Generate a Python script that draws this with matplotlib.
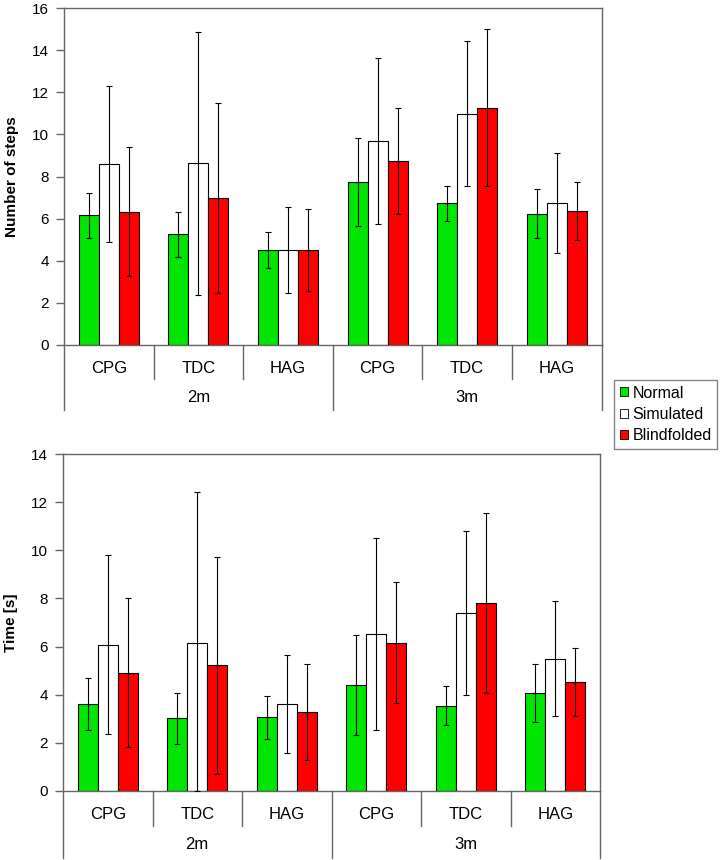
import numpy as np
import matplotlib
matplotlib.use('Agg')
import matplotlib.pyplot as plt
import matplotlib.transforms as mtransforms
from matplotlib.patches import Patch

plt.rcParams['font.family'] = ['Liberation Sans', 'DejaVu Sans']

# categories: 2m (CPG, TDC, HAG), then 3m (CPG, TDC, HAG)
categories = ['CPG', 'TDC', 'HAG', 'CPG', 'TDC', 'HAG']
groups = ['2m', '3m']
conditions = ['Normal', 'Simulated', 'Blindfolded']
colors = ['#00e600', '#ffffff', '#ff0000']

# number of steps: means and SD
steps_normal = [6.16, 5.25, 4.51, 7.74, 6.73, 6.24]
steps_sim = [8.59, 8.62, 4.51, 9.69, 10.98, 6.74]
steps_blind = [6.33, 6.98, 4.51, 8.75, 11.27, 6.36]
steps_normal_sd = [1.07, 1.08, 0.87, 2.07, 0.83, 1.18]
steps_sim_sd = [3.69, 6.25, 2.04, 3.95, 3.43, 2.39]
steps_blind_sd = [3.07, 4.51, 1.96, 2.52, 3.71, 1.38]

# time [s]: means and SD
time_normal = [3.61, 3.02, 3.07, 4.39, 3.55, 4.07]
time_sim = [6.08, 6.16, 3.61, 6.52, 7.38, 5.50]
time_blind = [4.92, 5.23, 3.28, 6.16, 7.80, 4.53]
time_normal_sd = [1.07, 1.07, 0.89, 2.07, 0.81, 1.20]
time_sim_sd = [3.73, 6.28, 2.04, 4.00, 3.41, 2.40]
time_blind_sd = [3.08, 4.51, 1.99, 2.52, 3.73, 1.42]

W, H = 726, 860
fig = plt.figure(figsize=(W / 100, H / 100), dpi=100)

def px_axes(left, top, right, bottom):
    return fig.add_axes([left / W, 1 - bottom / H, (right - left) / W, (bottom - top) / H])

ax1 = px_axes(64, 8, 601.5, 345)
ax2 = px_axes(63, 454, 600, 791)

spine_col = '#666666'
bw = 0.223

def draw(ax, means, sds, ymax, ylabel, sep_depth, outer_depth):
    x = np.arange(len(categories))
    for i, (m, s) in enumerate(zip(means, sds)):
        m = np.array(m)
        s = np.array(s)
        lower = np.minimum(s, m)  # bars cannot go below zero
        ax.bar(x + (i - 1) * bw, m, width=bw, color=colors[i], edgecolor='black',
               linewidth=0.8, zorder=2)
        ax.errorbar(x + (i - 1) * bw, m, yerr=[lower, s], fmt='none', ecolor='black',
                    elinewidth=0.8, capsize=2.5, capthick=0.8, zorder=3)
    ax.set_xlim(-0.5, len(categories) - 0.5)
    ax.set_ylim(0, ymax)
    ax.set_yticks(np.arange(0, ymax + 1, 2))
    ax.set_xticks([])
    ax.tick_params(axis='y', direction='out', length=6, width=1, color=spine_col,
                   labelsize=11, pad=5)
    for sp in ax.spines.values():
        sp.set_color(spine_col)
        sp.set_linewidth(1)
    ax.set_ylabel(ylabel, fontsize=11, fontweight='bold', labelpad=9)

    trans = mtransforms.blended_transform_factory(ax.transData, ax.transAxes)
    # separators between categories
    for b in [0.5, 1.5, 3.5, 4.5]:
        ax.plot([b, b], [0, -sep_depth], color=spine_col, lw=1, transform=trans, clip_on=False)
    # group separators and outer lines
    for b in [-0.5, 2.5, 5.5]:
        ax.plot([b, b], [0, -outer_depth], color=spine_col, lw=1, transform=trans, clip_on=False)
    for xi, c in enumerate(categories):
        ax.text(xi, -sep_depth * 0.68, c, transform=trans, ha='center', va='center', fontsize=12)
    for gi, g in enumerate(groups):
        ax.text(gi * 3 + 1, -outer_depth * 0.8, g, transform=trans, ha='center', va='center',
                fontsize=12)

draw(ax1, [steps_normal, steps_sim, steps_blind],
     [steps_normal_sd, steps_sim_sd, steps_blind_sd], 16, 'Number of steps', 0.101, 0.193)
draw(ax2, [time_normal, time_sim, time_blind],
     [time_normal_sd, time_sim_sd, time_blind_sd], 14, 'Time [s]', 0.104, 0.2)

handles = [Patch(facecolor=c, edgecolor='black', linewidth=0.6, label=l)
           for c, l in zip(colors, conditions)]
fig.legend(handles=handles, loc='upper left', bbox_to_anchor=(614 / W, 1 - 380 / H),
           frameon=True, fancybox=False, edgecolor=spine_col, fontsize=11.5,
           handlelength=0.5, handleheight=0.5, handletextpad=0.3, borderpad=0.35,
           labelspacing=0.4, borderaxespad=0)

fig.savefig('out.png', dpi=100)
